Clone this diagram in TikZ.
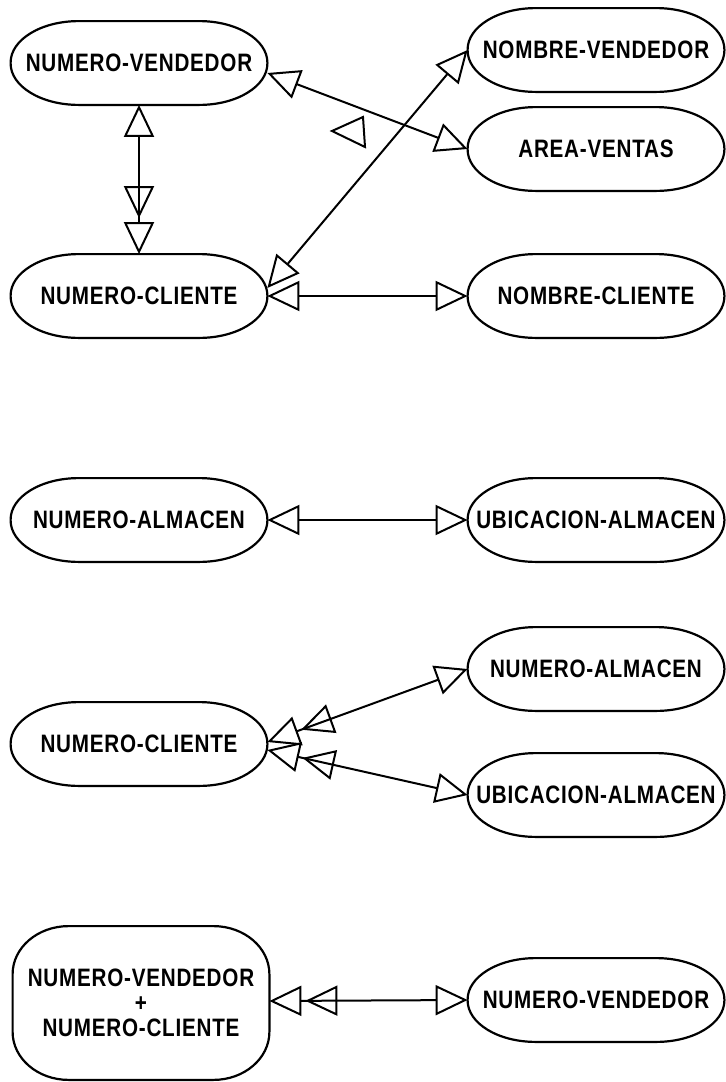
\documentclass[tikz,border=0pt]{standalone}
\usepackage{fontspec}
\usepackage{tikz}
\usetikzlibrary{calc}
\usetikzlibrary{arrows.meta}

\newfontfamily\attrfont{Liberation Sans}[FakeStretch=0.82,LetterSpace=3]

\tikzset{
  one/.tip={Triangle[open,length=16pt,width=15pt]},
  many/.tip={Triangle[open,length=16pt,width=15pt,sep=2pt]Triangle[open,length=16pt,width=15pt]},
  link/.style={line width=1pt},
  outline/.style n args={3}{inner sep=0pt, minimum width=128pt, minimum height=#1,
    align=center, font={\attrfont\bfseries\fontsize{12.6}{12.5}\selectfont},
    append after command={\pgfextra{
      \draw[line width=1.1pt]
        ($(\tikzlastnode.north west)+(#2,0)$) -- ($(\tikzlastnode.north east)+(-#2,0)$)
        arc[start angle=90,end angle=0,x radius=#2,y radius=#3]
        -- ($(\tikzlastnode.south east)+(0,#3)$)
        arc[start angle=0,end angle=-90,x radius=#2,y radius=#3]
        -- ($(\tikzlastnode.south west)+(#2,0)$)
        arc[start angle=270,end angle=180,x radius=#2,y radius=#3]
        -- ($(\tikzlastnode.north west)+(0,-#3)$)
        arc[start angle=180,end angle=90,x radius=#2,y radius=#3]
        -- cycle;}}},
  attr/.style={outline={41.5pt}{34pt}{20.75pt}},
  keyattr/.style={outline={76.5pt}{28pt}{24pt}}
}

\begin{document}
\begin{tikzpicture}[x=0.5pt,y=-0.5pt]
    \useasboundingbox[fill=white] (0,0) rectangle (725,1082);

    % vendedor / cliente
    \node[attr] (nv) at (139,63) {NUMERO-VENDEDOR};
    \node[attr] (nomv) at (596,50) {NOMBRE-VENDEDOR};
    \node[attr] (area) at (596,149) {AREA-VENTAS};
    \node[attr] (nc) at (139,296) {NUMERO-CLIENTE};
    \node[attr] (nomc) at (596,296) {NOMBRE-CLIENTE};

    \draw[link,{one}-{many}] (nv.south) -- (nc.north);
    \draw[link,{one}-{one}] ([yshift=-5pt]nv.east) -- (area.west);
    \draw[link,{one}-{one}] ([yshift=4pt]nc.east) -- (nomv.west);
    \draw[link,{one}-{one}] (nc.east) -- (nomc.west);
    \draw[link] (332,131) -- (363,117) -- (365,147) -- cycle; % suelto

    % almacen
    \node[attr] (na) at (139,520) {NUMERO-ALMACEN};
    \node[attr] (ua) at (596,520) {UBICACION-ALMACEN};
    \draw[link,{one}-{one}] (na.east) -- (ua.west);

    \node[attr] (nc2) at (139,744) {NUMERO-CLIENTE};
    \node[attr] (na2) at (596,669) {NUMERO-ALMACEN};
    \node[attr] (ua2) at (596,795) {UBICACION-ALMACEN};
    \draw[link,{many}-{one}] ([yshift=1pt]nc2.east) -- (na2.west);
    \draw[link,{many}-{one}] ([yshift=-3pt]nc2.east) -- (ua2.west);

    % clave compuesta
    \node[keyattr] (nvc) at (141,1003) {NUMERO-VENDEDOR\\+\\NUMERO-CLIENTE};
    \node[attr] (nv3) at (596,1000) {NUMERO-VENDEDOR};
    \draw[link,{many}-{one}] ([yshift=1pt]nvc.east) -- (nv3.west);
\end{tikzpicture}
\end{document}
